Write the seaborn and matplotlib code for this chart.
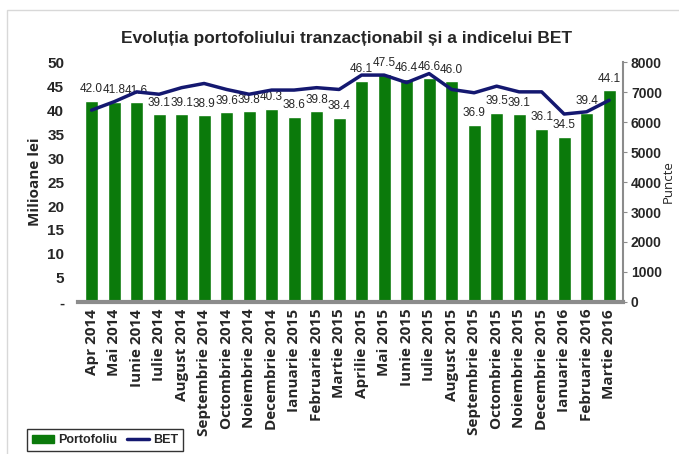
import pandas as pd
import matplotlib.pyplot as plt
import matplotlib.patches as mpatches
from matplotlib.lines import Line2D
from matplotlib.ticker import FuncFormatter
import seaborn as sns

# data
luni = ['Apr 2014', 'Mai 2014', 'Iunie 2014', 'Iulie 2014', 'August 2014',
        'Septembrie 2014', 'Octombrie 2014', 'Noiembrie 2014', 'Decembrie 2014',
        'Ianuarie 2015', 'Februarie 2015', 'Martie 2015', 'Aprilie 2015',
        'Mai 2015', 'Iunie 2015', 'Iulie 2015', 'August 2015', 'Septembrie 2015',
        'Octombrie 2015', 'Noiembrie 2015', 'Decembrie 2015', 'Ianuarie 2016',
        'Februarie 2016', 'Martie 2016']
portofoliu = [42.0, 41.8, 41.6, 39.1, 39.1, 38.9, 39.6, 39.8, 40.3, 38.6, 39.8, 38.4,
              46.1, 47.5, 46.4, 46.6, 46.0, 36.9, 39.5, 39.1, 36.1, 34.5, 39.4, 44.1]
bet = [6400, 6680, 7010, 6930, 7150, 7290, 7090, 6930, 7070, 7070, 7150, 7090,
       7570, 7570, 7320, 7620, 7090, 6980, 7200, 7010, 7010, 6270, 6345, 6730]

df = pd.DataFrame({'luna': luni, 'portofoliu': portofoliu, 'bet': bet})
df['poz'] = range(len(df))

sns.set_style('white')
plt.rcParams['font.family'] = ['Open Sans', 'DejaVu Sans']
narrow = ['Liberation Sans', 'DejaVu Sans']

GREEN = '#0b7a0b'
NAVY = '#141870'
GRAY = '#8c8c8c'

fig = plt.figure(figsize=(6.79, 4.54), dpi=100)
ax = fig.add_axes([0.115, 0.335, 0.802, 0.528])

sns.barplot(data=df, x='poz', y='portofoliu', color=GREEN, saturation=1,
            width=0.58, ax=ax)
ax.set_ylim(0, 50)
ax.set_yticks(range(0, 51, 5))
ax.yaxis.set_major_formatter(FuncFormatter(lambda v, p: '-' if v == 0 else f'{v:.0f}'))
ax.set_xticks(df['poz'])
ax.set_xticklabels(luni, rotation=90, fontsize=11, fontweight='bold')
ax.set_xlim(-0.6, len(df) - 0.4)
ax.set_xlabel('')
ax.set_ylabel('Milioane lei', fontsize=11, fontweight='bold', labelpad=4)
ax.tick_params(axis='y', labelsize=11, length=0, pad=10)
ax.tick_params(axis='x', length=0, pad=5)
for lbl in ax.get_yticklabels():
    lbl.set_family(narrow)
    lbl.set_fontweight('bold')
for s in ['top', 'right', 'left']:
    ax.spines[s].set_visible(False)
ax.spines['bottom'].set_color(GRAY)
ax.spines['bottom'].set_linewidth(3)

for i, v in enumerate(portofoliu):
    ax.annotate(f'{v:.1f}', (i, v), xytext=(0, 4), textcoords='offset points',
                ha='center', va='bottom', fontsize=8.5, family=narrow)

ax2 = ax.twinx()
sns.lineplot(data=df, x='poz', y='bet', color=NAVY, linewidth=2.5, ax=ax2)
ax2.set_ylim(0, 8000)
ax2.set_yticks(range(0, 8001, 1000))
ax2.set_ylabel('Puncte', fontsize=9.5)
ax2.yaxis.set_label_coords(1.071, 0.5)
ax2.tick_params(axis='y', labelsize=10, length=3, color=GRAY, pad=3)
for lbl in ax2.get_yticklabels():
    lbl.set_family(narrow)
    lbl.set_fontweight('bold')
for s in ['top', 'left', 'bottom']:
    ax2.spines[s].set_visible(False)
ax2.spines['right'].set_color(GRAY)
ax2.spines['right'].set_linewidth(1.5)

fig.text(0.51, 0.915, 'Evoluția portofoliului tranzacționabil și a indicelui BET',
         ha='center', va='center', fontsize=12.5, fontweight='bold', family=narrow)
fig.text(0.22, 1.018, '43.6%', ha='center', va='center', fontsize=13,
         fontweight='bold', family=narrow)

# outer frame of the original slide
fig.add_artist(mpatches.Rectangle((0.01, -0.2), 1.2, 1.178, transform=fig.transFigure,
                                  fill=False, edgecolor='#d8d8d8', linewidth=1))

handles = [mpatches.Patch(color=GREEN, label='Portofoliu'),
           Line2D([0], [0], color=NAVY, linewidth=2.5, label='BET')]
leg = fig.legend(handles=handles, loc='upper left', bbox_to_anchor=(0.03, 0.068),
                 ncol=2, frameon=True, fancybox=False, edgecolor='black',
                 handlelength=1.8, handletextpad=0.3, columnspacing=0.8,
                 borderpad=0.4,
                 prop={'family': narrow, 'weight': 'bold', 'size': 9})
leg.get_frame().set_linewidth(1)

fig.savefig('out.png', dpi=100)
